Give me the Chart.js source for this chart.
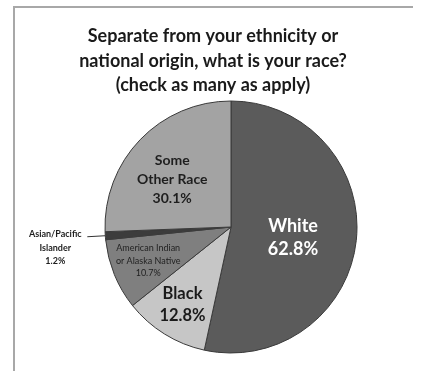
<!DOCTYPE html>
<html>
<head>
<meta charset="utf-8">
<script src="https://cdn.jsdelivr.net/npm/chart.js@4/dist/chart.umd.min.js"></script>
<style>
  html, body { margin: 0; padding: 0; background: #ffffff; }
  #wrap { position: relative; width: 421px; height: 371px; overflow: hidden; }
  #frame {
    position: absolute; left: 13px; top: 6px; width: 400px; height: 380px;
    border-top: 2px solid #a8a8a8; border-left: 2px solid #a8a8a8;
    box-sizing: border-box;
  }
  #c { position: absolute; left: 0; top: 0; }
</style>
</head>
<body>
<div id="wrap">
  <div id="frame"></div>
  <canvas id="c" width="421" height="371"></canvas>
</div>
<script>
// Survey answers (respondents could pick several, so shares exceed 100%)
const categories = ['White', 'Black', 'American Indian or Alaska Native', 'Asian/Pacific Islander', 'Some Other Race'];
const shares = [62.8, 12.8, 10.7, 1.2, 30.1];
const sliceColors = ['#5b5b5b', '#c6c6c6', '#7f7f7f', '#3c3c3c', '#a3a3a3'];
const titleLines = ['Separate from your ethnicity or', 'national origin, what is your race?', '(check as many as apply)'];

// Per-slice label text lines and styling
const labelLines = [
  ['White', '62.8%'],
  ['Black', '12.8%'],
  ['American Indian', 'or Alaska Native', '10.7%'],
  ['Asian/Pacific', 'Islander', '1.2%'],
  ['Some', 'Other Race', '30.1%']
];
const labelStyle = [
  { font: 'bold 18px Lato', color: '#ffffff', r: 0.50, lh: 23, angleShift: 4 },
  { font: 'bold 16.5px Lato', color: '#1a1a1a', r: 0.73, lh: 22, angleShift: 0 },
  { font: '9px Lato', color: '#222222', r: 0.71, lh: 12.5, angleShift: 0 },
  { font: 'bold 9px Lato', color: '#1e1e1e', outside: true, lh: 13.5 },
  { font: 'bold 14px Lato', color: '#1e1e1e', r: 0.60, lh: 19, angleShift: -5 }
];

const sliceLabels = {
  id: 'sliceLabels',
  afterDatasetsDraw(chart) {
    const ctx = chart.ctx;
    const arcs = chart.getDatasetMeta(0).data;
    ctx.save();
    ctx.textAlign = 'center';
    ctx.textBaseline = 'middle';
    arcs.forEach((arc, i) => {
      const p = arc.getProps(['x', 'y', 'startAngle', 'endAngle', 'outerRadius']);
      const st = labelStyle[i];
      const lines = labelLines[i];
      let mid = (p.startAngle + p.endAngle) / 2;
      ctx.font = st.font;
      ctx.fillStyle = st.color;
      let cx, cy;
      if (st.outside) {
        // leader line from the rim out to the label
        const ex = p.x + Math.cos(mid) * p.outerRadius;
        const ey = p.y + Math.sin(mid) * p.outerRadius;
        const lx = ex - 18, ly = ey + 1;
        ctx.strokeStyle = '#333333';
        ctx.lineWidth = 1;
        ctx.beginPath();
        ctx.moveTo(ex, ey);
        ctx.lineTo(lx, ly);
        ctx.stroke();
        cx = lx - 32;
        cy = ly + 11;
      } else {
        mid += st.angleShift * Math.PI / 180;
        cx = p.x + Math.cos(mid) * p.outerRadius * st.r;
        cy = p.y + Math.sin(mid) * p.outerRadius * st.r;
      }
      const top = cy - (lines.length - 1) * st.lh / 2;
      lines.forEach((t, k) => ctx.fillText(t, cx, top + k * st.lh));
    });
    ctx.restore();
  }
};

const heading = {
  id: 'heading',
  afterDraw(chart) {
    const ctx = chart.ctx;
    ctx.save();
    ctx.font = 'bold 18px Lato';
    ctx.fillStyle = '#1a1a1a';
    ctx.textAlign = 'center';
    ctx.textBaseline = 'middle';
    const ys = [36, 61, 85];
    titleLines.forEach((t, i) => ctx.fillText(t, 213, ys[i]));
    ctx.restore();
  }
};

new Chart(document.getElementById('c'), {
  type: 'pie',
  data: {
    labels: categories,
    datasets: [{
      data: shares,
      backgroundColor: sliceColors,
      borderColor: '#3a3a3a',
      borderWidth: 1,
      hoverOffset: 0,
      offset: 0
    }]
  },
  options: {
    responsive: false,
    animation: false,
    radius: 126,
    layout: { padding: { left: 105, right: 64, top: 101, bottom: 18 } },
    plugins: {
      legend: { display: false },
      tooltip: { enabled: false },
      title: { display: false }
    }
  },
  plugins: [sliceLabels, heading]
});
</script>
</body>
</html>
